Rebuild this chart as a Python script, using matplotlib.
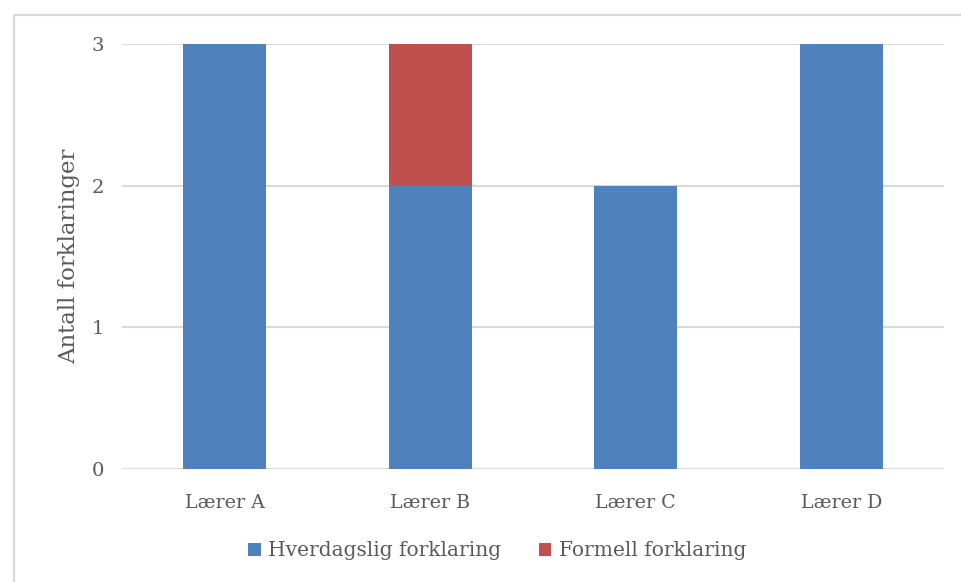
import matplotlib
matplotlib.use("Agg")
import matplotlib.pyplot as plt
from matplotlib.patches import Patch
from matplotlib.lines import Line2D

teachers = ["Lærer A", "Lærer B", "Lærer C", "Lærer D"]
everyday = [3, 2, 2, 3]
formal = [0, 1, 0, 0]
series_names = ["Hverdagslig forklaring", "Formell forklaring"]
y_ticks = [0, 1, 2, 3]
y_label = "Antall forklaringer"

blue = "#4F81BD"
red = "#C0504D"
grid_grey = "#D9D9D9"
text_grey = "#595959"

plt.rcParams["font.family"] = ["DejaVu Serif"]

fig = plt.figure(figsize=(9.62, 5.82), dpi=100)
ax = fig.add_axes([122 / 962, 1 - 469 / 582, 822 / 962, 425 / 582])

x = list(range(len(teachers)))
ax.bar(x, everyday, width=0.405, color=blue, zorder=3)
ax.bar(x, formal, width=0.405, bottom=everyday, color=red, zorder=3)

ax.set_xlim(-0.5, len(teachers) - 0.5)
ax.set_ylim(0, 3)
ax.set_yticks(y_ticks)
ax.set_xticks(x)
ax.set_xticklabels(teachers)
ax.tick_params(length=0, colors=text_grey)
ax.tick_params(axis="y", pad=13, labelsize=14)
ax.tick_params(axis="x", pad=18, labelsize=13.7)
ax.yaxis.grid(True, color=grid_grey, linewidth=1.5, zorder=0)
ax.set_axisbelow(True)
for s in ax.spines.values():
    s.set_visible(False)
ax.axhline(0, color=grid_grey, linewidth=1.5, zorder=2)
ax.set_ylabel(y_label, fontsize=16.5, color=text_grey, labelpad=8)

handles = [Patch(facecolor=blue), Patch(facecolor=red)]
fig.legend(handles, series_names, loc="center", bbox_to_anchor=(497 / 962, 1 - 551 / 582),
           ncol=2, frameon=False, fontsize=14.5, labelcolor=text_grey,
           handlelength=0.62, handleheight=0.62, handletextpad=0.35, columnspacing=1.9)

# chart frame: top and left edges
fx = 13.5 / 962
fy = 1 - 15 / 582
fig.lines.append(Line2D([fx, 1.05], [fy, fy], transform=fig.transFigure,
                        color=grid_grey, linewidth=1.6, solid_capstyle="butt"))
fig.lines.append(Line2D([fx, fx], [-0.05, fy], transform=fig.transFigure,
                        color=grid_grey, linewidth=1.6, solid_capstyle="butt"))

fig.savefig("out.png", dpi=100)
